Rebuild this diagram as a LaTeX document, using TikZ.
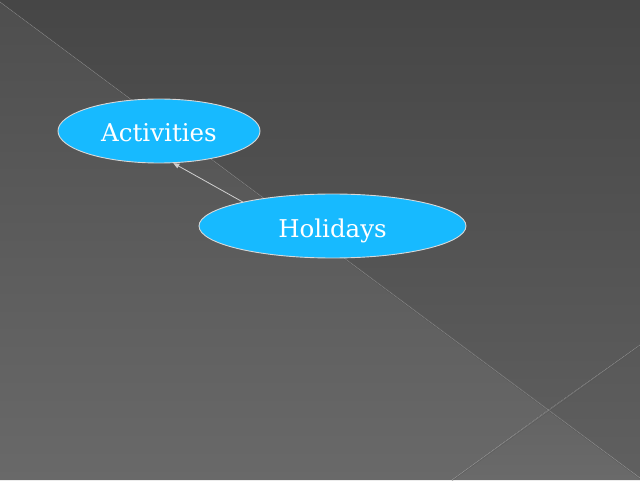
\documentclass[tikz,border=0pt]{standalone}
\usepackage{fontspec}
\setmainfont{DejaVu Serif}
\usetikzlibrary{shapes.geometric,arrows.meta}
\definecolor{bubble}{HTML}{17BAFF}
\definecolor{rimline}{HTML}{D8D8D8}
\definecolor{arrowgray}{HTML}{D0D0D0}
\tikzset{
  bubblenode/.style={ellipse, draw=rimline, line width=0.9pt, fill=bubble, text=white, inner sep=0pt, text height=22pt, text depth=0pt, font=\fontsize{24.5}{28}\selectfont},
  linkarrow/.style={draw=arrowgray, line width=0.8pt, -{Triangle[length=6pt,width=5pt]}},
  seam/.style={draw=black!40!gray, line width=0.8pt, opacity=0.4},
  seamlight/.style={draw=white, line width=0.7pt, opacity=0.15}
}
\begin{document}
\begin{tikzpicture}[x=1pt,y=1pt]
\useasboundingbox (0,0) rectangle (640,480);
% top region
\begin{scope}
\clip (0,480) -- (640,480) -- (640,135) -- (548,70) -- (0,478) -- cycle;
\shade[top color={rgb,255:red,70;green,70;blue,70}, bottom color={rgb,255:red,96;green,96;blue,96}] (0,0) rectangle (640,480);
\end{scope}
% right small triangle
\begin{scope}
\clip (548,70) -- (640,135) -- (640,2) -- cycle;
\shade[top color={rgb,255:red,88;green,88;blue,88}, bottom color={rgb,255:red,96;green,96;blue,96}] (540,0) rectangle (640,140);
\end{scope}
% left region
\begin{scope}
\clip (0,478) -- (548,70) -- (452,0) -- (0,0) -- cycle;
\shade[top color={rgb,255:red,78;green,78;blue,78}, bottom color={rgb,255:red,105;green,105;blue,105}] (0,0) rectangle (640,480);
\end{scope}
% bottom region
\begin{scope}
\clip (548,70) -- (452,0) -- (640,0) -- (640,2) -- cycle;
\shade[top color={rgb,255:red,98;green,98;blue,98}, bottom color={rgb,255:red,106;green,106;blue,106}] (440,0) rectangle (640,80);
\end{scope}
% seams
\coordinate (tl) at (0,478);
\coordinate (br) at (640,2);
\coordinate (rt) at (640,135);
\coordinate (bl) at (452,0);
\draw[seam] ([yshift=-0.7pt]tl) -- ([yshift=-0.7pt]br);
\draw[seamlight] (tl) -- (br);
\draw[seam] ([yshift=-0.7pt]rt) -- ([yshift=-0.7pt]bl);
\draw[seamlight] (rt) -- (bl);
% nodes
\node[bubblenode, minimum width=202pt, minimum height=64pt] (act) at (159,349) {Activities};
\node[bubblenode, minimum width=267pt, minimum height=64pt] (hol) at (332.5,254) {Holidays};
\draw[linkarrow] (hol.165) -- (act.-66);
\end{tikzpicture}
\end{document}
